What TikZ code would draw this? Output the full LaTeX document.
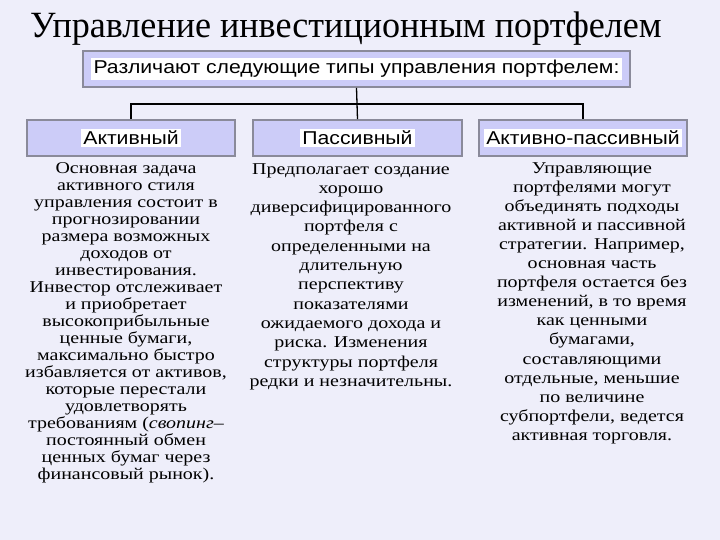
\documentclass[tikz,border=0pt]{standalone}
\usepackage{fontspec}
\setmainfont{Liberation Serif}
\newfontfamily\titlefont[FakeStretch=0.975]{Liberation Serif}
\newfontfamily\bodyfont[FakeStretch=1.21]{Liberation Serif}
\newfontfamily\arialfont[FakeStretch=1.14]{Liberation Sans}
\newcommand\mytightlines{\lineskiplimit=-20pt\relax}
\definecolor{bgc}{HTML}{EEEEFA}
\definecolor{boxfill}{HTML}{CCCCF8}
\definecolor{boxline}{HTML}{8A8A9A}
\tikzset{
  typebox/.style={draw=boxline, line width=1.6pt, fill=boxfill, minimum height=36pt, inner sep=0pt},
  boxlabel/.style={fill=white, inner sep=2.5pt, font=\arialfont\fontsize{18.6}{21}\selectfont},
  bodytext/.style={align=center, inner sep=0pt, anchor=north},
  conn/.style={draw=black, line width=1.3pt}
}
\begin{document}
\begin{tikzpicture}[x=1pt,y=-1pt]
\fill[bgc] (0,0) rectangle (720,540);
\useasboundingbox (0,0) rectangle (720,540);
\node[anchor=base west, inner sep=0pt, font=\titlefont\fontsize{37}{40}\selectfont] (title) at (30,37.5) {Управление инвестиционным портфелем};
\node[typebox, minimum width=547pt] (top) at (356.5,69) {};
\node[boxlabel] (toplbl) at (top.center) {Различают следующие типы управления портфелем:};
\node[typebox, minimum width=208pt] (act) at (131,138) {};
\node[typebox, minimum width=209pt] (pas) at (357.5,138) {};
\node[typebox, minimum width=208pt] (ap) at (583,138) {};
\node[boxlabel] (actlbl) at (act.center) {Активный};
\node[boxlabel] (paslbl) at (pas.center) {Пассивный};
\node[boxlabel] (aplbl) at (ap.center) {Активно-пассивный};
\coordinate (bus) at (357,104);
\draw[conn] (top.south) -- (pas.north);
\draw[conn] (act.north) |- (bus) -| (ap.north);
\node[bodytext, font=\bodyfont\fontsize{16.5}{17}\selectfont\mytightlines] (acttxt) at (126,162) {Основная задача\\активного стиля\\управления состоит в\\прогнозировании\\размера возможных\\доходов от\\инвестирования.\\Инвестор отслеживает\\и приобретает\\высокоприбыльные\\ценные бумаги,\\максимально быстро\\избавляется от активов,\\которые перестали\\удовлетворять\\требованиям (\textit{свопинг}–\\постоянный обмен\\ценных бумаг через\\финансовый рынок).};
\node[bodytext, font=\bodyfont\fontsize{16.5}{19.3}\selectfont\mytightlines] (pastxt) at (351,163) {Предполагает создание\\хорошо\\диверсифицированного\\портфеля с\\определенными на\\длительную\\перспективу\\показателями\\ожидаемого дохода и\\риска. Изменения\\структуры портфеля\\редки и незначительны.};
\node[bodytext, font=\bodyfont\fontsize{16.5}{19.1}\selectfont\mytightlines] (aptxt) at (592,162) {Управляющие\\портфелями могут\\объединять подходы\\активной и пассивной\\стратегии. Например,\\основная часть\\портфеля остается без\\изменений, в то время\\как ценными\\бумагами,\\составляющими\\отдельные, меньшие\\по величине\\субпортфели, ведется\\активная торговля.};
\end{tikzpicture}
\end{document}
